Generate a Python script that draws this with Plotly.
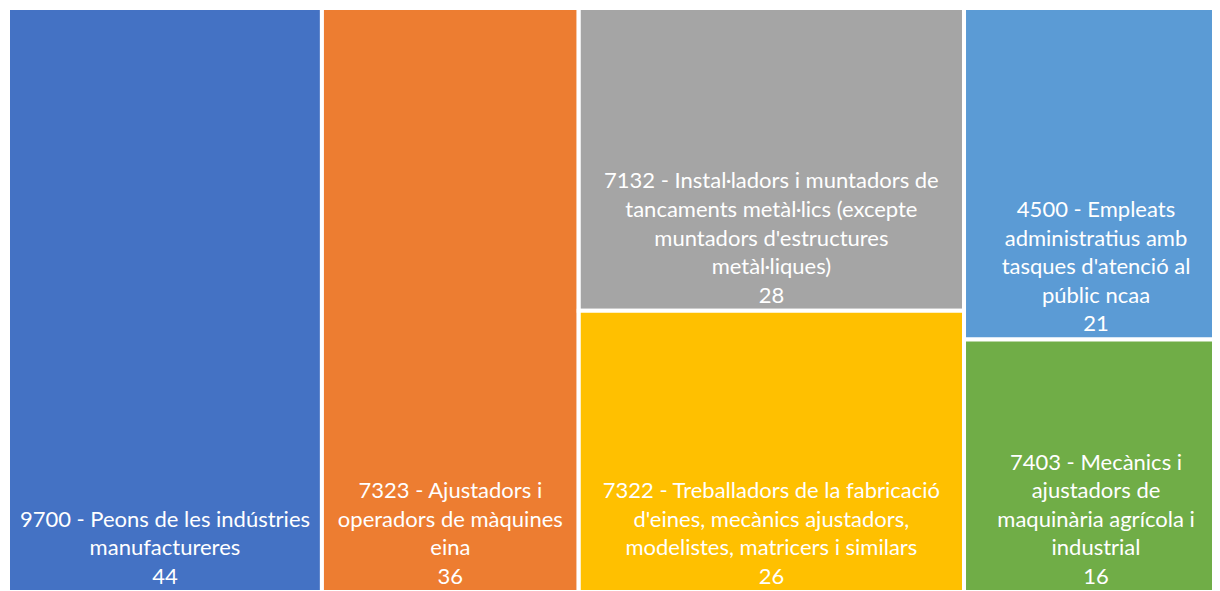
import plotly.graph_objects as go

# ocupacions i valors
ids = ["total", "9700", "7323", "grupA", "7132", "7322", "grupB", "4500", "7403"]
parents = ["", "total", "total", "total", "grupA", "grupA", "total", "grupB", "grupB"]
labels = [
    "",
    "9700 - Peons de les indústries<br>manufactureres",
    "7323 - Ajustadors i<br>operadors de màquines<br>eina",
    "",
    "7132 - Instal·ladors i muntadors de<br>tancaments metàl·lics (excepte<br>muntadors d'estructures<br>metàl·liques)",
    "7322 - Treballadors de la fabricació<br>d'eines, mecànics ajustadors,<br>modelistes, matricers i similars",
    "",
    "4500 - Empleats<br>administratius amb<br>tasques d'atenció al<br>públic ncaa",
    "7403 - Mecànics i<br>ajustadors de<br>maquinària agrícola i<br>industrial",
]
values = [171, 44, 36, 54, 28, 26, 37, 21, 16]
colors = ["rgba(0,0,0,0)", "#4472C4", "#ED7D31", "rgba(0,0,0,0)", "#A5A5A5",
          "#FFC000", "rgba(0,0,0,0)", "#5B9BD5", "#70AD47"]

texts = [f"{l}<br>{v}" if l else "" for l, v in zip(labels, values)]

fig = go.Figure(go.Treemap(
    ids=ids,
    parents=parents,
    labels=ids,
    values=values,
    branchvalues="total",
    sort=False,
    text=texts,
    textinfo="text",
    textposition="bottom center",
    textfont=dict(family="Lato", size=22, color="white"),
    marker=dict(colors=colors, line=dict(color="white", width=4),
                pad=dict(t=0, l=0, r=0, b=0)),
    tiling=dict(packing="slice-dice", pad=0),
    pathbar=dict(visible=False),
    hoverinfo="skip",
))

fig.update_layout(
    width=1220, height=588,
    margin=dict(l=0, r=0, t=0, b=4),
    paper_bgcolor="white",
    uniformtext=dict(minsize=22, mode="show"),
)

fig.write_html("out.html")
